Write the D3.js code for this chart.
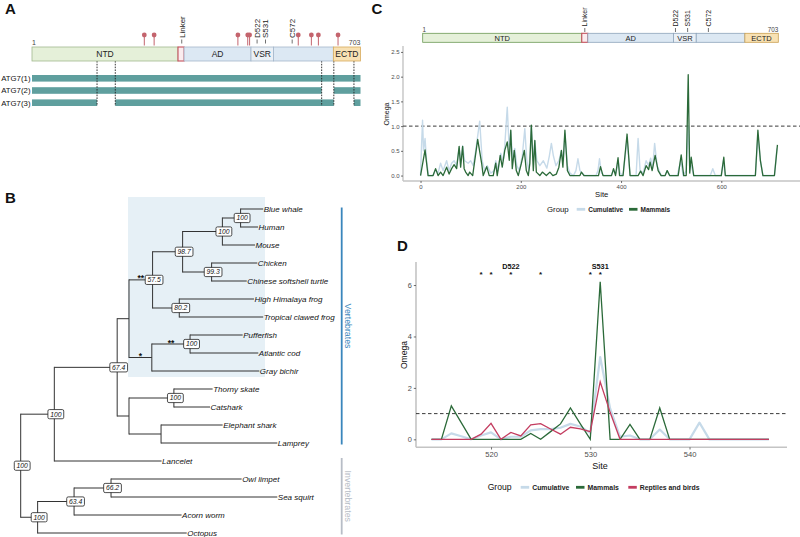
<!DOCTYPE html>
<html>
<head>
<meta charset="utf-8">
<script src="https://cdn.jsdelivr.net/npm/d3@7"></script>
<style>
body { margin: 0; background: #fff; }
svg { display: block; font-family: "Liberation Sans", Arial, Helvetica, sans-serif; }
</style>
</head>
<body>
<svg id="fig" width="800" height="537"></svg>
<script>
// ---------------- data ----------------

// Panel A: ATG7 domain map (residue positions as drawn in the schematic)
var domainNames = ['NTD', 'Linker', 'AD', 'VSR', '', 'ECTD'];
var domainStartA = [1, 313, 326, 469, 517, 645];
var domainEndA = [313, 326, 469, 517, 645, 703];
var siteNames = ['Linker', 'D522', 'S531', 'C572'];
var sitePosA = [321, 482, 500, 557];
var pinPosA = [241, 262, 441, 462, 466, 570, 598, 613, 655];
var isoformNames = ['ATG7(1)', 'ATG7(2)', 'ATG7(3)'];
var isoformParts = [[[1, 703]], [[1, 620], [646, 703]], [[1, 140], [179, 646], [689, 703]]];
var spliceSites = [140, 179, 620, 646, 689];

// Panel C: same schematic, drawn slightly differently
var domainStartC = [1, 315, 327, 496, 541, 637];
var domainEndC = [315, 327, 496, 541, 637, 703];
var sitePosC = [321, 500, 524, 565];

// Panel C: omega along the whole protein, [site, omega]
var cumulativeC = [[0,0],[2,0.6],[4,1.12],[6,0.5],[9,0.75],[12,0.3],[16,0],[25,0],[30,0.12],[35,0.05],[40,0.25],[45,0.1],
  [52,0.3],[57,0.1],[62,0.25],[67,0.3],[72,0.2],[77,0.55],[80,0.3],[84,0.6],[88,0.3],[95,0.25],[100,0.3],[105,0.2],
  [110,0.5],[118,1.1],[123,0.3],[128,0.1],[133,0.2],[140,0.05],[147,0.1],[150,0.3],[155,0.1],[160,0.45],[165,0.3],
  [168,0.6],[173,1.38],[177,0.5],[180,0.9],[184,0.3],[188,0.55],[192,0.2],[197,0.1],[203,0.4],[208,0.95],[212,0.3],
  [216,0.1],[219,0.5],[221,1.0],[225,0.3],[228,0.7],[232,0.3],[238,0.2],[245,0.3],[252,0.15],[257,0.4],[261,0.65],
  [265,0.4],[270,0.2],[276,0.3],[281,0.5],[285,0.3],[288,0.85],[293,0.2],[298,0.05],[305,0],[310,0.1],[314,0.34],
  [318,0.1],[322,0.05],[328,0],[350,0],[354,0.1],[357,0.34],[361,0.05],[366,0],[380,0],[385,0.1],[390,0.05],[394,0.3],
  [398,0.05],[404,0],[412,0.75],[418,0],[430,0],[434,0.75],[438,0.1],[444,0.05],[450,0.3],[455,0.2],[459,0.35],
  [463,0.15],[467,0.65],[472,0.2],[480,0],[488,0],[492,0.1],[497,0],[512,0],[519,0.3],[524,0],[530,0.1],[534,1.0],
  [537,0.2],[540,0.2],[545,0],[578,0],[583,0.14],[588,0],[600,0],[604,0.3],[608,0],[668,0],[673,0.8],[678,0.3],
  [683,0],[706,0],[711,0.55]];
var mammalsC = [[0,0],[9,0.52],[15,0],[25,0],[30,0.14],[35,0],[40,0.07],[45,0],[52,0.17],[57,0.03],[62,0.14],[67,0.22],
  [72,0.14],[77,0.59],[80,0.17],[84,0.59],[87,0.14],[90,0.07],[95,0],[98,0.07],[104,0],[114,0.73],[122,0.24],[125,0],
  [132,0.18],[137,0],[145,0],[150,0.25],[153,0],[159,0.41],[163,0.17],[168,0.51],[173,0.68],[177,0.31],[180,0.92],
  [183,0.14],[187,0.51],[191,0.1],[195,0],[201,0.24],[207,0.51],[211,0.1],[215,0],[218,0.24],[221,1.02],[225,0.1],
  [228,0.71],[231,0.07],[238,0],[243,0.07],[251,0],[258,0.07],[264,0],[271,0.03],[276,0.17],[281,0.51],[284,0.17],
  [288,0.92],[293,0.1],[298,0],[318,0],[321,0.07],[326,0],[355,0],[359,0.18],[364,0],[381,0],[385,0.14],[389,0],
  [394,0.36],[397,0],[404,0],[412,0.84],[418,0],[434,0],[439,0.09],[444,0],[450,0.2],[455,0.12],[458,0.27],[462,0.1],
  [468,0.41],[474,0.1],[480,0],[488,0],[492,0.1],[497,0],[514,0],[520,0.42],[525,0],[530,0],[534,2.04],[537,0.05],
  [540,0.37],[545,0],[600,0],[605,0.37],[608,0],[668,0],[673,0.92],[678,0.3],[683,0],[706,0],[712,0.62]];

// Panel D: zoom on the VSR region
var sitesD = [514,515,516,517,518,519,520,521,522,523,524,525,526,527,528,529,530,531,532,533,534,535,536,537,538,539,540,541,542,543,544,545,546,547,548];
var cumulativeD = [0,0,0.23,0.12,0,0.15,0.27,0,0.1,0.1,0.35,0.4,0.4,0.45,0.6,0.5,0.25,3.2,1.2,0.1,0.15,0,0,0.38,0,0,0,0.65,0,0,0,0,0,0,0];
var mammalsD = [0,0,1.3,0.65,0,0,0,0,0,0,0.23,0,0.3,0.6,1.22,0.6,0,6.13,0,0,0.58,0,0,1.22,0,0,0,0,0,0,0,0,0,0,0];
var reptilesD = [0,0,0,0,0,0.2,0.62,0,0.27,0.13,0.56,0.61,0.4,0.2,0.47,0.41,0.3,2.24,1.05,0,0,0,0,0,0,0,0,0,0,0,0,0,0,0,0];
var starSites = [519, 520, 522, 525, 530, 531];
var namedSites = [522, 531];
var namedSiteLabels = ['D522', 'S531'];

// Panel B: tree as a flat table (depth = distance from root)
var treeIds = ['root','chord','vert','oste','tetra','amn','mam','bwh','Blue whale','Human','Mouse','saur','Chicken',
  'Chinese softshell turtle','frog','High Himalaya frog','Tropical clawed frog','fish','pc','Pufferfish','Atlantic cod',
  'Gray bichir','cycl','shark','Thorny skate','Catshark','el','Elephant shark','Lamprey','Lancelet','inv','n634','n662',
  'Owl limpet','Sea squirt','Acorn worm','Octopus'];
var treeParents = ['','root','chord','vert','oste','tetra','amn','mam','bwh','bwh','mam','amn','saur','saur','tetra',
  'frog','frog','oste','fish','pc','pc','fish','vert','cycl','shark','shark','cycl','el','el','chord','root','inv','n634',
  'n662','n662','n634','inv'];
var treeDepth = [0,0.131,0.376,0.422,0.514,0.631,0.786,0.857,0.945,0.925,0.913,0.744,0.922,0.881,0.618,0.909,0.945,
  0.511,0.660,0.865,0.926,0.930,0.422,0.597,0.748,0.738,0.547,0.787,1.0,0.549,0.066,0.208,0.352,0.861,1.0,0.627,0.647];
var treeSupport = ['100','100','67.4','','57.5','98.7','100','100','','','','99.3','','','80.2','','','','100','','','',
  '','100','','','','','','','100','63.4','66.2','','','',''];
var starNodes = ['tetra', 'fish', 'pc'];
var starMarks = ['**', '*', '**'];
var groupNames = ['Vertebrates', 'Invertebrates'];
var groupFirstLeaf = ['Blue whale', 'Lancelet'];
var groupLastLeaf = ['Lamprey', 'Octopus'];

// ---------------- styles ----------------
var fillA = ['#e5f0d9', '#fbecee', '#dce8f3', '#eaf0f6', '#dce8f3', '#f8e1b3'];
var strokeA = ['#a2b88f', '#c5505c', '#a5b7cb', '#a5b7cb', '#a5b7cb', '#d6ab5c'];
var strokeC = ['#6b9955', '#c5505c', '#8ea4bb', '#8ea4bb', '#8ea4bb', '#c9a052'];
var colCum = '#c6dae9', colMam = '#2b6a39', colRep = '#c43d60';
var pinCol = '#c4646d', isoCol = '#5f9f9e', axisGray = '#c4c4c4', tickCol = '#4d4d4d';
var groupCols = ['#3a86bc', '#b7bdc6'];

var svg = d3.select('#fig');
svg.append('rect').attr('width', 800).attr('height', 537).attr('fill', '#fff');

function panelLabel(t, x, y) {
    svg.append('text').attr('x', x).attr('y', y).text(t)
        .attr('font-size', 15).attr('font-weight', 'bold').attr('fill', '#111');
}
panelLabel('A', 5, 13.5);
panelLabel('B', 5, 203);
panelLabel('C', 371.5, 13.5);
panelLabel('D', 397, 251);

// draws a domain bar with its labels
function domainBar(g, x, top, h, starts, ends, strokes, fontSize, sitePos, siteFont, tickTop) {
    domainNames.forEach(function(name, i) {
        g.append('rect')
            .attr('x', x(starts[i])).attr('y', top)
            .attr('width', x(ends[i]) - x(starts[i])).attr('height', h)
            .attr('fill', fillA[i]).attr('stroke', strokes[i])
            .attr('stroke-width', name == 'Linker' ? 1.1 : 0.8);
        if (name && name != 'Linker') {
            g.append('text').attr('x', (x(starts[i]) + x(ends[i])) / 2).attr('y', top + h / 2)
                .attr('dy', '0.36em').attr('text-anchor', 'middle')
                .attr('font-size', fontSize).attr('fill', '#222').text(name);
        }
    });
    siteNames.forEach(function(name, i) {
        var sx = x(sitePos[i]);
        g.append('line').attr('x1', sx).attr('x2', sx)
            .attr('y1', tickTop).attr('y2', tickTop + 4)
            .attr('stroke', '#333').attr('stroke-width', 0.7);
        g.append('text')
            .attr('transform', 'translate(' + [sx + siteFont * 0.36, tickTop - 1.5] + ') rotate(-90)')
            .attr('font-size', siteFont).attr('fill', '#222').text(name);
    });
}

// ---------------- panel A ----------------
var gA = svg.append('g');
var xA = d3.scaleLinear().domain([1, 703]).range([32, 360.5]);
var yIso = d3.scalePoint().domain(isoformNames).range([78.3, 102.7]);

spliceSites.forEach(function(s) {
    gA.append('line').attr('x1', xA(s)).attr('x2', xA(s)).attr('y1', 61).attr('y2', 106)
        .attr('stroke', '#222').attr('stroke-width', 0.9).attr('stroke-dasharray', '1.6,1.2');
});
isoformNames.forEach(function(name, i) {
    isoformParts[i].forEach(function(p) {
        gA.insert('rect', 'line').attr('x', xA(p[0])).attr('y', yIso(name) - 3.3)
            .attr('width', xA(p[1]) - xA(p[0])).attr('height', 6.6).attr('fill', isoCol);
    });
    gA.append('text').attr('x', 30.5).attr('y', yIso(name)).attr('dy', '0.36em')
        .attr('text-anchor', 'end').attr('font-size', 7.8).attr('fill', '#111').text(name);
});
domainBar(gA, xA, 47, 14, domainStartA, domainEndA, strokeA, 8.5, sitePosA, 8, 39.5);
pinPosA.forEach(function(p) {
    gA.append('line').attr('x1', xA(p)).attr('x2', xA(p)).attr('y1', 45.5).attr('y2', 36)
        .attr('stroke', pinCol).attr('stroke-width', 1);
    gA.append('circle').attr('cx', xA(p)).attr('cy', 35).attr('r', 2.4).attr('fill', pinCol);
});
gA.append('text').attr('x', 32).attr('y', 44.5).attr('font-size', 7).attr('fill', '#444').text('1');
gA.append('text').attr('x', 360.5).attr('y', 44.5).attr('text-anchor', 'end')
    .attr('font-size', 7).attr('fill', '#444').text('703');

// ---------------- panel C ----------------
var gC = svg.append('g');
var xCb = d3.scaleLinear().domain([1, 703]).range([422.7, 778.3]);
domainBar(gC, xCb, 33.3, 9, domainStartC, domainEndC, strokeC, 7.5, sitePosC, 7, 28);
gC.append('text').attr('x', 422.5).attr('y', 31.6).attr('font-size', 6.3).attr('fill', '#444').text('1');
gC.append('text').attr('x', 778.3).attr('y', 31.6).attr('text-anchor', 'end')
    .attr('font-size', 6.3).attr('fill', '#444').text('703');

var xC = d3.scaleLinear().domain([-35, 757]).range([403, 800]);
var yC = d3.scaleLinear().domain([-0.11, 2.62]).range([181, 46]);

function styleAxis(a, size, col) {
    a.select('.domain').remove();
    a.selectAll('.tick line').attr('stroke', '#333').attr('stroke-width', 0.7);
    a.selectAll('.tick text').attr('font-size', size).attr('fill', col)
        .attr('font-family', '"Liberation Sans", Arial, sans-serif');
}

gC.append('line').attr('x1', 403).attr('x2', 800).attr('y1', 181).attr('y2', 181)
    .attr('stroke', axisGray).attr('stroke-width', 1.4);
gC.append('line').attr('x1', 403).attr('x2', 403).attr('y1', 46).attr('y2', 181)
    .attr('stroke', axisGray).attr('stroke-width', 1.4);
var axC = gC.append('g').attr('transform', 'translate(0,181)')
    .call(d3.axisBottom(xC).tickValues([0, 200, 400, 600]).tickSize(2).tickPadding(1.5));
styleAxis(axC, 6, tickCol);
var ayC = gC.append('g').attr('transform', 'translate(403,0)')
    .call(d3.axisLeft(yC).tickValues([0, 0.5, 1, 1.5, 2, 2.5]).tickFormat(d3.format('.1f')).tickSize(2).tickPadding(1.5));
styleAxis(ayC, 6, tickCol);

gC.append('line').attr('x1', 403).attr('x2', 800).attr('y1', yC(1)).attr('y2', yC(1))
    .attr('stroke', '#222').attr('stroke-width', 0.9).attr('stroke-dasharray', '3.5,2.5');

var lineC = d3.line().x(function(d) { return xC(d[0]); }).y(function(d) { return yC(d[1]); });
gC.append('path').datum(cumulativeC).attr('d', lineC).attr('fill', 'none')
    .attr('stroke', colCum).attr('stroke-width', 1.4).attr('stroke-linejoin', 'round');
gC.append('path').datum(mammalsC).attr('d', lineC).attr('fill', 'none')
    .attr('stroke', colMam).attr('stroke-width', 1.3).attr('stroke-linejoin', 'round');

gC.append('text').attr('x', 601.7).attr('y', 196.5).attr('text-anchor', 'middle')
    .attr('font-size', 7.7).attr('fill', '#111').text('Site');
gC.append('text').attr('transform', 'translate(389,114) rotate(-90)').attr('text-anchor', 'middle')
    .attr('font-size', 7).attr('fill', '#111').text('Omega');

function legend(g, y, gx, gSize, keys, labels, cols, tSize) {
    g.append('text').attr('x', gx).attr('y', y).attr('dy', '0.36em')
        .attr('font-size', gSize).attr('fill', '#111').text('Group');
    labels.forEach(function(l, i) {
        g.append('line').attr('x1', keys[i]).attr('x2', keys[i] + 8.5).attr('y1', y).attr('y2', y)
            .attr('stroke', cols[i]).attr('stroke-width', 2.8);
        g.append('text').attr('x', keys[i] + 11.5).attr('y', y).attr('dy', '0.36em')
            .attr('font-size', tSize).attr('font-weight', 'bold').attr('fill', '#222').text(l);
    });
}
legend(gC, 209.3, 547, 7.8, [576.7, 629], ['Cumulative', 'Mammals'], [colCum, colMam], 6.5);

// ---------------- panel D ----------------
var gD = svg.append('g');
var xD = d3.scaleLinear().domain([512.3, 549.7]).range([414.6, 785.8]);
var yD = d3.scaleLinear().domain([-0.31, 6.9]).range([447.3, 261.9]);

gD.append('line').attr('x1', 416).attr('x2', 787).attr('y1', 447.3).attr('y2', 447.3)
    .attr('stroke', axisGray).attr('stroke-width', 1.6);
gD.append('line').attr('x1', 416).attr('x2', 416).attr('y1', 261.9).attr('y2', 447.3)
    .attr('stroke', axisGray).attr('stroke-width', 1.6);
var axD = gD.append('g').attr('transform', 'translate(0,447.3)')
    .call(d3.axisBottom(xD).tickValues([520, 530, 540]).tickSize(2.2).tickPadding(2));
styleAxis(axD, 7.6, tickCol);
var ayD = gD.append('g').attr('transform', 'translate(416,0)')
    .call(d3.axisLeft(yD).tickValues([0, 2, 4, 6]).tickSize(2.2).tickPadding(2));
styleAxis(ayD, 7.4, tickCol);

gD.append('line').attr('x1', 416).attr('x2', 787).attr('y1', yD(1)).attr('y2', yD(1))
    .attr('stroke', '#222').attr('stroke-width', 0.9).attr('stroke-dasharray', '3.5,2.5');

var lineD = d3.line().x(function(d, i) { return xD(sitesD[i]); }).y(function(d) { return yD(d); });
gD.append('path').datum(cumulativeD).attr('d', lineD).attr('fill', 'none')
    .attr('stroke', colCum).attr('stroke-width', 2.2).attr('stroke-linejoin', 'round');
gD.append('path').datum(mammalsD).attr('d', lineD).attr('fill', 'none')
    .attr('stroke', colMam).attr('stroke-width', 1.3);
gD.append('path').datum(reptilesD).attr('d', lineD).attr('fill', 'none')
    .attr('stroke', colRep).attr('stroke-width', 1.3);

starSites.forEach(function(s) {
    gD.append('text').attr('x', xD(s)).attr('y', 276.5).attr('text-anchor', 'middle')
        .attr('font-size', 8).attr('font-weight', 'bold').attr('fill', '#111').text('*');
});
namedSites.forEach(function(s, i) {
    gD.append('text').attr('x', xD(s)).attr('y', 268.8).attr('text-anchor', 'middle')
        .attr('font-size', 7.3).attr('font-weight', 'bold').attr('fill', '#111').text(namedSiteLabels[i]);
});

gD.append('text').attr('x', 600).attr('y', 468.5).attr('text-anchor', 'middle')
    .attr('font-size', 9).attr('fill', '#111').text('Site');
gD.append('text').attr('transform', 'translate(406.5,355) rotate(-90)').attr('text-anchor', 'middle')
    .attr('font-size', 8.6).attr('fill', '#111').text('Omega');
legend(gD, 487.3, 487.7, 8.6, [520.7, 576, 628.3], ['Cumulative', 'Mammals', 'Reptiles and birds'],
    [colCum, colMam, colRep], 6.9);

// ---------------- panel B ----------------
var gB = svg.append('g');
var table = treeIds.map(function(id, i) {
    return {id: id, parent: treeParents[i], depth: treeDepth[i], support: treeSupport[i]};
});
var root = d3.stratify().id(function(d) { return d.id; })
    .parentId(function(d) { return d.parent || null; })(table);
var xT = d3.scaleLinear().domain([0, 1]).range([20.7, 277.3]);
var yT = d3.scaleLinear().domain([0, 18]).range([209, 533]);

var leaves = root.leaves();
leaves.forEach(function(l, i) { l.ty = yT(i); });
root.eachAfter(function(n) {
    if (n.children) n.ty = d3.mean([n.children[0].ty, n.children[n.children.length - 1].ty]);
    n.tx = xT(n.data.depth);
});
var byId = {};
root.each(function(n) { byId[n.id] = n; });

// highlighted clade (bony vertebrates)
var hl = byId['oste'];
var hlLeaves = hl.leaves();
gB.append('rect').attr('x', hl.tx - 1).attr('y', hlLeaves[0].ty - 12)
    .attr('width', 265 - hl.tx + 1).attr('height', hlLeaves[hlLeaves.length - 1].ty + 6 - (hlLeaves[0].ty - 12))
    .attr('fill', '#e6f0f6');

root.each(function(n) {
    if (n.parent) {
        gB.append('line').attr('x1', n.parent.tx).attr('x2', n.tx).attr('y1', n.ty).attr('y2', n.ty)
            .attr('stroke', '#333').attr('stroke-width', 1);
    }
    if (n.children) {
        gB.append('line').attr('x1', n.tx).attr('x2', n.tx)
            .attr('y1', n.children[0].ty).attr('y2', n.children[n.children.length - 1].ty)
            .attr('stroke', '#333').attr('stroke-width', 1).attr('stroke-linecap', 'square');
    }
});

leaves.forEach(function(l) {
    gB.append('text').attr('x', l.tx + 0.5).attr('y', l.ty).attr('dy', '0.36em')
        .attr('font-size', 8).attr('font-style', 'italic').attr('fill', '#111').text(l.id);
});

starNodes.forEach(function(id, i) {
    var n = byId[id];
    gB.append('text').attr('x', (n.parent.tx + n.tx) / 2).attr('y', n.ty + 1.5)
        .attr('text-anchor', 'middle').attr('font-size', 8.5).attr('font-weight', 'bold')
        .attr('fill', '#111').text(starMarks[i]);
});

root.each(function(n) {
    if (!n.data.support) return;
    var lg = gB.append('g').attr('transform', 'translate(' + [n.tx + 1.5, n.ty] + ')');
    var rect = lg.append('rect');
    var t = lg.append('text').attr('text-anchor', 'middle').attr('dy', '0.36em')
        .attr('font-size', 6.8).attr('font-style', 'italic').attr('fill', '#111').text(n.data.support);
    var w = t.node().getComputedTextLength() + 4.5;
    rect.attr('x', -w / 2).attr('y', -4.6).attr('width', w).attr('height', 9.2).attr('rx', 1.5)
        .attr('fill', '#fff').attr('stroke', '#222').attr('stroke-width', 0.8);
});

// group bars on the right
groupNames.forEach(function(name, i) {
    var y1 = byId[groupFirstLeaf[i]].ty - 1.5, y2 = byId[groupLastLeaf[i]].ty + 1.5;
    if (i == 1) y1 -= 1.5;
    gB.append('line').attr('x1', 341.7).attr('x2', 341.7).attr('y1', y1).attr('y2', y2)
        .attr('stroke', groupCols[i]).attr('stroke-width', 1.8);
    gB.append('text').attr('transform', 'translate(' + [345.2, (y1 + y2) / 2] + ') rotate(90)')
        .attr('text-anchor', 'middle').attr('font-size', 8.8).attr('fill', groupCols[i]).text(name);
});
</script>
</body>
</html>
